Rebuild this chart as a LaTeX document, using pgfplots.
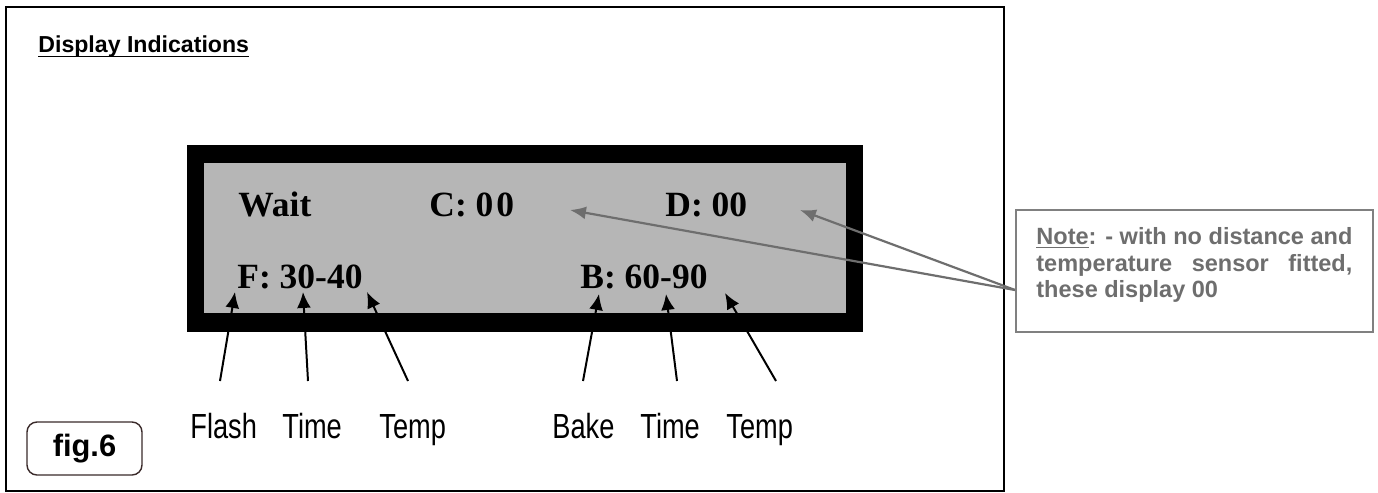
\documentclass[border=0pt]{standalone}
\usepackage{pgfplots}
\pgfplotsset{compat=1.18}
\usetikzlibrary{arrows.meta}
\usepackage{graphicx}
\usepackage{fontspec}
\setmainfont{Liberation Sans}
\newfontfamily\tnr{Liberation Serif}

\definecolor{lcdgray}{HTML}{B6B6B6}
\definecolor{notegray}{HTML}{6E6E6E}
\definecolor{boxgray}{HTML}{808080}
\definecolor{figborder}{HTML}{3A2A2A}

% underline drawn as a rule just under the baseline
\newcommand\ul[2][black]{\setbox0\hbox{#2}\rlap{\color{#1}\rule[-2.2pt]{\wd0}{0.9pt}}\box0}
\newcommand\lab[1]{\scalebox{0.78}[1]{#1}}

\begin{document}
\begin{tikzpicture}
\begin{axis}[
    scale only axis,
    width=689bp, height=246.5bp,
    xmin=0, xmax=1378, ymin=0, ymax=493,
    y dir=reverse,
    hide axis,
    clip=false,
]
% page area
\addplot[fill=white, draw=none, mark=none] coordinates {(0,0) (1378,0) (1378,493) (0,493)} -- cycle;

% outer frame
\addplot[black, line width=1pt, mark=none] coordinates {(6,7) (1004,7) (1004,491) (6,491)} -- cycle;

\node[anchor=base west, inner sep=0, font=\bfseries\fontsize{11.6}{13}\selectfont]
    at (axis cs:38,53) {\ul{Display Indications}};

% display
\addplot[fill=black, draw=none, mark=none] coordinates {(187,145) (863,145) (863,332) (187,332)} -- cycle;
\addplot[fill=lcdgray, draw=none, mark=none] coordinates {(204,163) (846,163) (846,313) (204,313)} -- cycle;

\begin{scope}[every node/.style={anchor=base west, inner sep=0, font=\tnr\bfseries\fontsize{17.8}{20}\selectfont}]
\node at (axis cs:238,216) {Wait};
\node at (axis cs:429,216) {C: 0\kern1.5pt0};
\node at (axis cs:665,216) {D: 00};
\node at (axis cs:237,288) {F: 30-40};
\node at (axis cs:580,288) {B: 60-90};
\end{scope}

% black pointers
\begin{scope}[black, line width=1pt, mark=none]
\addplot[-{Latex[length=8pt,width=7pt]}] coordinates {(220,381) (235,292)};
\addplot[-{Latex[length=8pt,width=7pt]}] coordinates {(308,381) (303,292)};
\addplot[-{Latex[length=8pt,width=7pt]}] coordinates {(408,381) (367,292)};
\addplot[-{Latex[length=8pt,width=7pt]}] coordinates {(583,381) (599,294)};
\addplot[-{Latex[length=8pt,width=7pt]}] coordinates {(677,381) (666,294)};
\addplot[-{Latex[length=8pt,width=7pt]}] coordinates {(776,381) (725,293)};
\end{scope}

\begin{scope}[every node/.style={anchor=base west, inner sep=0, font=\fontsize{17.5}{19}\selectfont}]
\node at (axis cs:190,438) {\lab{Flash}};
\node at (axis cs:282,438) {\lab{Time}};
\node at (axis cs:379,438) {\lab{Temp}};
\node at (axis cs:552,438) {\lab{Bake}};
\node at (axis cs:640,438) {\lab{Time}};
\node at (axis cs:726,438) {\lab{Temp}};
\end{scope}

% fig label
\addplot[draw=figborder, line width=0.7pt, rounded corners=5pt, mark=none] coordinates {(27,422) (142,422) (142,475) (27,475)} -- cycle;
\node[inner sep=0, font=\bfseries\fontsize{15.5}{17}\selectfont] at (axis cs:84.5,449) {fig.6};

% note callout
\addplot[notegray, line width=1.1pt, mark=none, -{Latex[length=8pt,width=6.5pt]}] coordinates {(1015,290) (570,210)};
\addplot[notegray, line width=1.1pt, mark=none, -{Latex[length=8pt,width=6.5pt]}] coordinates {(1015,290) (800,210)};
\addplot[fill=white, draw=boxgray, line width=1pt, mark=none] coordinates {(1016,210) (1373,210) (1373,332) (1016,332)} -- cycle;

\begin{scope}[every node/.style={anchor=base west, inner sep=0, text=notegray, font=\bfseries\fontsize{11.8}{13}\selectfont}]
\node at (axis cs:1036,244) {\makebox[158bp][s]{\ul[notegray]{Note}: - with no distance and}};
\node at (axis cs:1036,271) {\makebox[158bp][s]{temperature sensor fitted,}};
\node at (axis cs:1036,297) {these display 00};
\end{scope}
\end{axis}
\end{tikzpicture}
\end{document}
